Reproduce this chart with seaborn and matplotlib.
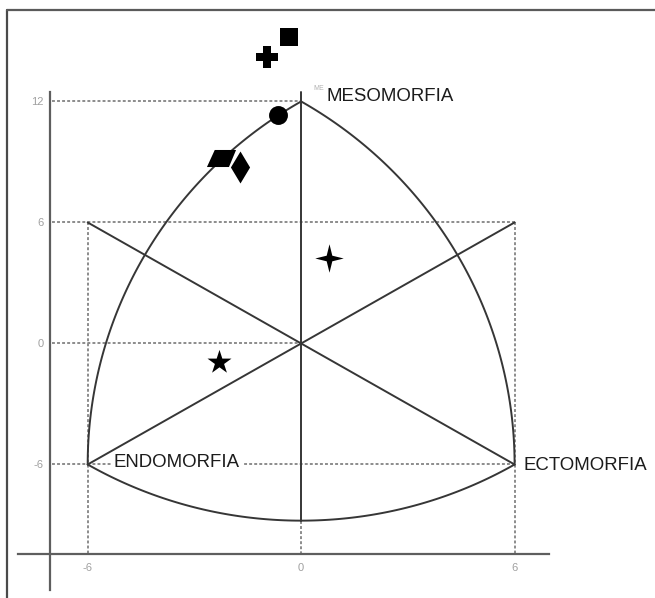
import numpy as np
import pandas as pd
import matplotlib
matplotlib.use('Agg')
import matplotlib.pyplot as plt
from matplotlib.lines import Line2D
import seaborn as sns

# somatochart vertices (x, y)
meso = (0, 12)
endo = (-6, -6)
ecto = (6, -6)
vertex_labels = ['MESOMORFIA', 'ENDOMORFIA', 'ECTOMORFIA']

# axis ticks
x_ticks = [-6, 0, 6]
y_ticks = [-6, 0, 6, 12]

# plotted somatopoints
point_names = ['square', 'plus', 'circle', 'parallelogram', 'diamond', 'star4', 'star5']
x_vals = [-0.35, -0.95, -0.65, -2.25, -1.72, 0.78, -2.30]
y_vals = [15.20, 14.20, 11.33, 9.19, 8.76, 4.26, -0.90]

df = pd.DataFrame({'name': point_names, 'x': x_vals, 'y': y_vals})

# marker shapes
para = [(-41, -24), (21, -24), (41, 24), (-19, 24)]
star4 = []
for i in range(8):
    a = np.pi / 2 + i * np.pi / 4
    rr = 1.0 if i % 2 == 0 else 0.28
    star4.append((rr * np.cos(a), rr * np.sin(a)))

styles = {
    'square': ('s', 175),
    'plus': ('P', 230),
    'circle': ('o', 185),
    'parallelogram': (para, 440),
    'diamond': ('d', 265),
    'star4': (star4, 420),
    'star5': ('*', 330),
}

sns.set_style('white')
plt.rcParams['font.family'] = ['Liberation Sans', 'DejaVu Sans']

fig = plt.figure(figsize=(6.55, 5.98), dpi=100)
ax = fig.add_axes([0, 0, 1, 1])
ax.set_xlim(-8.465, 9.947)
ax.set_ylim(-12.62, 17.03)

solid = dict(color='#363636', lw=1.4, solid_capstyle='round', zorder=3)
dot = dict(color='#8c8c8c', lw=1.4, linestyle=(0, (1.5, 1.1)), zorder=1)

# dotted guide lines
ax.plot([-7, meso[0]], [12, 12], **dot)
ax.plot([-7, 6], [6, 6], **dot)
ax.plot([-7, 0], [0, 0], **dot)
ax.plot([-7, 6], [-6, -6], **dot)
ax.plot([-6, -6], [6, -10.45], **dot)
ax.plot([6, 6], [6, -10.45], **dot)
ax.plot([0, 0], [-8.8, -10.45], **dot)

# reuleaux-like outline (ellipse arcs in data units)
r = 12
k = np.sqrt(3)
t = np.linspace(2 * np.pi / 3, np.pi, 120)
ax.plot(ecto[0] + r * np.cos(t), ecto[1] + r * k * np.sin(t), **solid)
t = np.linspace(0, np.pi / 3, 120)
ax.plot(endo[0] + r * np.cos(t), endo[1] + r * k * np.sin(t), **solid)
t = np.linspace(-2 * np.pi / 3, -np.pi / 3, 120)
ax.plot(meso[0] + r * np.cos(t), meso[1] + r * k * np.sin(t), **solid)

# inner lines
ax.plot([-6, 6], [6, -6], **solid)
ax.plot([-6, 6], [-6, 6], **solid)
ax.plot([0, 0], [meso[1] - r * k, 12.45], **solid)

# points
for name, (m, s) in styles.items():
    sub = df[df['name'] == name]
    sns.scatterplot(data=sub, x='x', y='y', marker=m, s=s, color='black',
                    edgecolor='black', linewidth=0, ax=ax, zorder=5, legend=False)

# vertex labels
txt = dict(fontsize=13.4, color='#1c1c1c', va='center', ha='left', zorder=6)
ax.text(0.66, 12.65, 'ME', fontsize=5, color='#b0b0b0', va='center', ha='right')
ax.text(0.72, 12.27, vertex_labels[0], **txt)
ax.text(-5.27, -5.90, vertex_labels[1],
        bbox=dict(facecolor='white', edgecolor='none', pad=1.5), **txt)
ax.text(6.26, -6.06, vertex_labels[2], **txt)

# axes as crossing lines
for side in ['top', 'right']:
    ax.spines[side].set_visible(False)
ax.spines['left'].set_position(('data', -7.05))
ax.spines['bottom'].set_position(('data', -10.45))
ax.spines['left'].set_bounds(-12.2, 12.45)
ax.spines['bottom'].set_bounds(-7.96, 6.97)
for side in ['left', 'bottom']:
    ax.spines[side].set_color('#5e5e5e')
    ax.spines[side].set_linewidth(1.6)

ax.set_xticks(x_ticks)
ax.set_yticks(y_ticks)
ax.set_xticklabels([str(v) for v in x_ticks])
ax.set_yticklabels([str(v) for v in y_ticks])
ax.tick_params(axis='both', length=0, labelsize=8, labelcolor='#a0a0a0')
ax.tick_params(axis='x', pad=6)
ax.tick_params(axis='y', pad=5)
ax.set_xlabel('')
ax.set_ylabel('')

# picture frame (top and left edges)
fx = 7 / 655
fy = 1 - 10 / 598
fig.add_artist(Line2D([fx, fx], [0, fy], color='#4a4a4a', lw=1.6))
fig.add_artist(Line2D([fx, 1], [fy, fy], color='#5a5a5a', lw=1.6))

plt.savefig('out.png', dpi=100)
